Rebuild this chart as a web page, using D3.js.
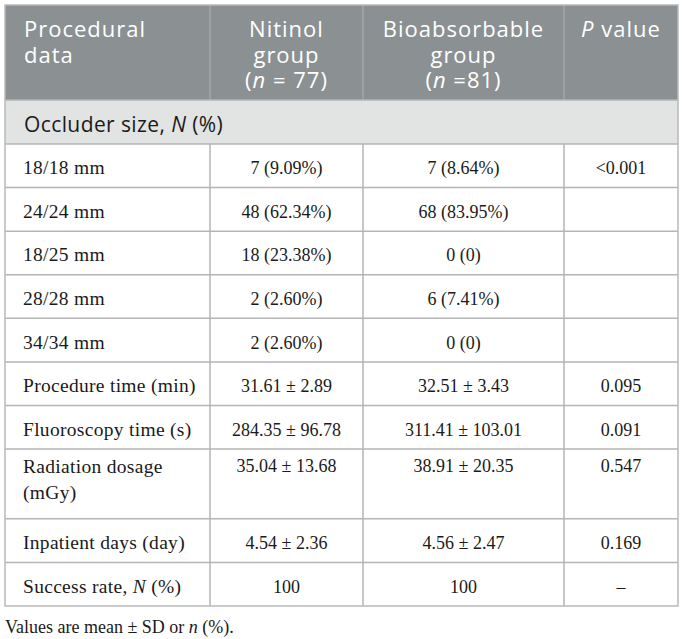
<!DOCTYPE html>
<html>
<head>
<meta charset="utf-8">
<script src="https://cdn.jsdelivr.net/npm/d3@7/dist/d3.min.js"></script>
<style>
  body { margin: 0; background: #ffffff; }
</style>
</head>
<body>
<script>
// table content (asterisks mark italic parts)
var headers = [
  ["Procedural", "data"],
  ["Nitinol", "group", "(*n* = 77)"],
  ["Bioabsorbable", "group", "(*n* =81)"],
  ["*P* value"]
];
var sectionLabel = "Occluder size, *N* (%)";
var rowLabels = [
  ["18/18 mm"], ["24/24 mm"], ["18/25 mm"], ["28/28 mm"], ["34/34 mm"],
  ["Procedure time (min)"], ["Fluoroscopy time (s)"], ["Radiation dosage", "(mGy)"],
  ["Inpatient days (day)"], ["Success rate, *N* (%)"]
];
var nitinol = ["7 (9.09%)", "48 (62.34%)", "18 (23.38%)", "2 (2.60%)", "2 (2.60%)",
  "31.61 ± 2.89", "284.35 ± 96.78", "35.04 ± 13.68", "4.54 ± 2.36", "100"];
var bioabsorbable = ["7 (8.64%)", "68 (83.95%)", "0 (0)", "6 (7.41%)", "0 (0)",
  "32.51 ± 3.43", "311.41 ± 103.01", "38.91 ± 20.35", "4.56 ± 2.47", "100"];
var pValues = ["<0.001", "", "", "", "", "0.095", "0.091", "0.547", "0.169", "–"];
var footnote = "Values are mean ± SD or *n* (%).";

var W = 684, H = 639;
var colEdges = [5, 210, 363, 564, 678];
var headTop = 5, headBottom = 100, sectionBottom = 144, tableBottom = 606;
var sans = "'Open Sans', 'Noto Sans', sans-serif";
var serif = "'Liberation Serif', 'Times New Roman', serif";
var ink = "#1a1a1a";

var svg = d3.select("body").append("svg")
            .attr("width", W)
            .attr("height", H);

// rows: height in units (2-line row is taller), cumulative start positions
var rowUnits = rowLabels.map(function(d) { return d.length > 1 ? 1.6 : 1; });
var rowStart = [0];
rowUnits.forEach(function(u, i) { rowStart.push(rowStart[i] + u); });
var y = d3.scaleLinear()
          .domain([0, rowStart[rowStart.length - 1]])
          .range([sectionBottom, tableBottom]);

var x = d3.scaleOrdinal().domain([0, 1, 2, 3, 4]).range(colEdges);
function colCenter(i) { return (x(i) + x(i + 1)) / 2; }

// write "a *b* c" as tspans with italic segments
function rich(sel, str) {
  str.split("*").forEach(function(part, k) {
    if (part === "") return;
    sel.append("tspan")
       .attr("font-style", k % 2 ? "italic" : "normal")
       .text(part);
  });
}

// several lines inside one text element
function multiline(t, lines, x0, pitch) {
  lines.forEach(function(line, l) {
    var ln = t.append("tspan").attr("x", x0).attr("dy", l === 0 ? 0 : pitch);
    rich(ln, line);
  });
}

// header background
svg.append("rect")
   .attr("x", x(0)).attr("y", headTop)
   .attr("width", x(4) - x(0)).attr("height", headBottom - headTop)
   .attr("fill", "#8b9093");

// section background
svg.append("rect")
   .attr("x", x(0)).attr("y", headBottom)
   .attr("width", x(4) - x(0)).attr("height", sectionBottom - headBottom)
   .attr("fill", "#e2e3e3");

// header column dividers
[1, 2, 3].forEach(function(i) {
  svg.append("line")
     .attr("x1", x(i)).attr("x2", x(i))
     .attr("y1", headTop).attr("y2", headBottom)
     .attr("stroke", "#a3a7a9").attr("stroke-width", 1.5);
});

// header text
headers.forEach(function(lines, c) {
  var hx = c === 0 ? x(0) + 19 : colCenter(c);
  var t = svg.append("text")
             .attr("x", hx)
             .attr("y", 37)
             .attr("text-anchor", c === 0 ? "start" : "middle")
             .attr("font-family", sans)
             .attr("font-size", 22)
             .attr("letter-spacing", 1)
             .attr("fill", "#ffffff");
  multiline(t, lines, hx, 25.5);
});

// section label
var sec = svg.append("text")
             .attr("x", x(0) + 19)
             .attr("y", 132)
             .attr("font-family", sans)
             .attr("font-size", 21)
             .attr("letter-spacing", 0.4)
             .attr("fill", ink);
rich(sec, sectionLabel);

// body grid
var grid = "#b5b5b5";
rowStart.slice(0, -1).forEach(function(u) {
  svg.append("line")
     .attr("x1", x(0)).attr("x2", x(4))
     .attr("y1", y(u)).attr("y2", y(u))
     .attr("stroke", grid).attr("stroke-width", 1.5);
});
[1, 2, 3].forEach(function(i) {
  svg.append("line")
     .attr("x1", x(i)).attr("x2", x(i))
     .attr("y1", sectionBottom).attr("y2", tableBottom)
     .attr("stroke", grid).attr("stroke-width", 1.5);
});
// outer border
svg.append("rect")
   .attr("x", x(0)).attr("y", headTop)
   .attr("width", x(4) - x(0)).attr("height", tableBottom - headTop)
   .attr("fill", "none")
   .attr("stroke", "#b9b9b9").attr("stroke-width", 1.5);
svg.append("line")
   .attr("x1", x(0)).attr("x2", x(4))
   .attr("y1", headBottom).attr("y2", headBottom)
   .attr("stroke", grid).attr("stroke-width", 1.5);

// body text
var cells = [rowLabels, nitinol, bioabsorbable, pValues];
rowLabels.forEach(function(lab, r) {
  var top = y(rowStart[r]), bot = y(rowStart[r + 1]);
  var single = lab.length === 1;
  var base = single ? (top + bot) / 2 + 8.5 : top + 22.5;
  var t = svg.append("text")
             .attr("x", x(0) + 18)
             .attr("y", single ? base : top + 24)
             .attr("font-family", serif)
             .attr("font-size", 19.5)
             .attr("letter-spacing", 0.3)
             .attr("fill", ink);
  multiline(t, lab, x(0) + 18, 26);
  [1, 2, 3].forEach(function(c) {
    svg.append("text")
       .attr("x", colCenter(c))
       .attr("y", base)
       .attr("text-anchor", "middle")
       .attr("font-family", serif)
       .attr("font-size", 18)
       .attr("fill", ink)
       .text(cells[c][r]);
  });
});

// footnote
var fn = svg.append("text")
            .attr("x", x(0))
            .attr("y", 633)
            .attr("font-family", serif)
            .attr("font-size", 18)
            .attr("fill", ink);
rich(fn, footnote);
</script>
</body>
</html>
